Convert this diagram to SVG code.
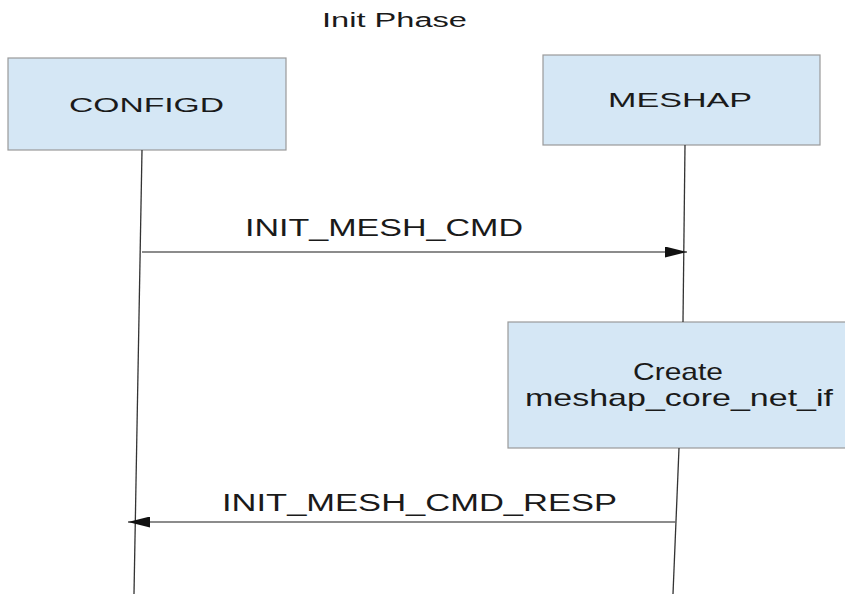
<svg xmlns="http://www.w3.org/2000/svg" width="845" height="596" viewBox="0 0 845 596">
<defs>
<style>
.box{fill:#d5e7f5;stroke:#9a9a9a;stroke-width:1.2}
.t{font-family:"Liberation Sans",Arial,sans-serif;fill:#1a1a1a}
.life{stroke:#333;stroke-width:1.3;fill:none}
.msg{stroke:#666;stroke-width:1.5;fill:none}
</style>
<marker id="ah" viewBox="0 0 22 11" refX="22" refY="5.5" markerWidth="22" markerHeight="11" markerUnits="userSpaceOnUse" orient="auto">
<path d="M0,0 L22,5.5 L0,11 Z" fill="#111"/>
</marker>
</defs>
<rect width="845" height="596" fill="#ffffff"/>
<text class="t" x="322" y="27" font-size="20" textLength="145" lengthAdjust="spacingAndGlyphs">Init Phase</text>
<g id="configd">
<rect class="box" x="8" y="58" width="278" height="92"/>
<text class="t" x="69" y="112" font-size="20" textLength="155" lengthAdjust="spacingAndGlyphs">CONFIGD</text>
</g>
<g id="meshap">
<rect class="box" x="543" y="55" width="277" height="90"/>
<text class="t" x="608" y="107" font-size="21" textLength="144" lengthAdjust="spacingAndGlyphs">MESHAP</text>
</g>
<g id="create">
<rect class="box" x="508" y="322" width="340" height="126"/>
<text class="t" x="633" y="380" font-size="24" textLength="90" lengthAdjust="spacingAndGlyphs">Create</text>
<text class="t" x="525" y="406" font-size="24" textLength="308" lengthAdjust="spacingAndGlyphs">meshap_core_net_if</text>
</g>
<g id="connectors">
<line class="life" x1="142" y1="150" x2="134" y2="594"/>
<line class="life" x1="685" y1="145" x2="683" y2="322"/>
<line class="life" x1="679" y1="448" x2="673" y2="594"/>
<line class="msg" x1="142" y1="252" x2="687" y2="252" marker-end="url(#ah)"/>
<text class="t" x="245" y="236" font-size="24" textLength="278" lengthAdjust="spacingAndGlyphs">INIT_MESH_CMD</text>
<line class="msg" x1="676" y1="522" x2="128" y2="522" marker-end="url(#ah)"/>
<text class="t" x="222" y="511" font-size="23" textLength="395" lengthAdjust="spacingAndGlyphs">INIT_MESH_CMD_RESP</text>
</g>
</svg>
